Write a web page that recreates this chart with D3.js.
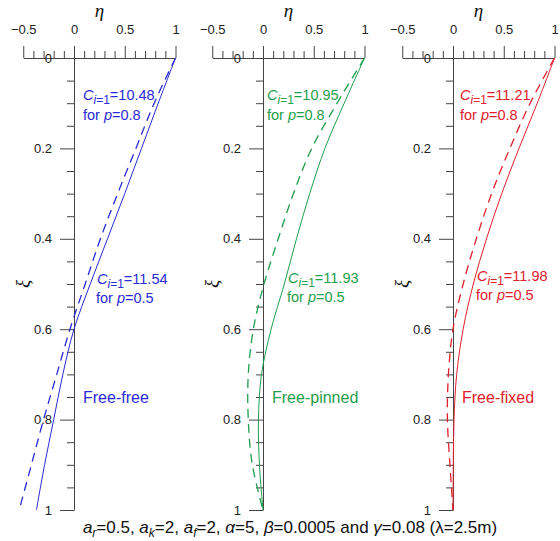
<!DOCTYPE html>
<html>
<head>
<meta charset="utf-8">
<script src="https://cdn.jsdelivr.net/npm/d3@7"></script>
<style>
  body { margin: 0; background: #fff; }
  svg { display: block; }
  text { font-family: "Liberation Sans", Arial, sans-serif; }
</style>
</head>
<body>
<svg id="chart" width="560" height="541"></svg>
<script>
// ---------- data ----------
const xiGrid = [0, 0.1, 0.2, 0.3, 0.4, 0.5, 0.6, 0.7, 0.8, 0.9, 1.0];
const panelNames = ["Free-free", "Free-pinned", "Free-fixed"];
const panelColors = ["#2a2ad6", "#1f9e4c", "#e0202c"];
// eta values, p = 0.5 (solid) and p = 0.8 (dashed)
const freeFreeP05   = [1.0, 0.83, 0.665, 0.50, 0.33, 0.16, 0.0, -0.11, -0.20, -0.29, -0.37];
const freeFreeP08   = [1.0, 0.79, 0.61, 0.43, 0.26, 0.11, -0.04, -0.17, -0.30, -0.42, -0.54];
const freePinnedP05 = [1.0, 0.80, 0.61, 0.46, 0.33, 0.21, 0.08, -0.015, -0.045, -0.035, 0];
const freePinnedP08 = [1.0, 0.73, 0.48, 0.30, 0.15, 0.01, -0.095, -0.145, -0.145, -0.105, 0];
const freeFixedP05  = [1.0, 0.83, 0.65, 0.48, 0.33, 0.20, 0.10, 0.036, 0.01, 0.003, 0];
const freeFixedP08  = [1.0, 0.76, 0.56, 0.38, 0.23, 0.10, 0.0, -0.045, -0.055, -0.03, 0];
const cP08 = ["10.48", "10.95", "11.21"];
const cP05 = ["11.54", "11.93", "11.98"];
const etaMajorTicks = [-0.5, 0, 0.5, 1];
const xiMajorTicks = [0, 0.2, 0.4, 0.6, 0.8, 1];

const seriesP05 = [freeFreeP05, freePinnedP05, freeFixedP05];
const seriesP08 = [freeFreeP08, freePinnedP08, freeFixedP08];

// ---------- layout ----------
const svg = d3.select("#chart");
const panelX0 = [74, 263, 453];     // pixel position of eta = 0
const unit = 101.5;                 // pixels per eta unit
const yTop = 58, yBot = 510;
const axisColor = "#444";
const annot = [
  {a1x: 9,  a1y: 100, a2x: 23, a2y: 284},
  {a1x: 4,  a1y: 100, a2x: 25, a2y: 283},
  {a1x: 7,  a1y: 100, a2x: 24, a2y: 281}
];

const y = d3.scaleLinear().domain([0, 1]).range([yTop, yBot]);

const etaMinor = d3.range(-5, 11).map(d => d / 10).filter(d => !etaMajorTicks.some(m => Math.abs(m - d) < 1e-9));
const xiMinor = d3.range(0, 21).map(d => d / 20).filter(d => !xiMajorTicks.some(m => Math.abs(m - d) < 1e-9));

panelNames.forEach((name, i) => {
  const x0 = panelX0[i];
  const x = d3.scaleLinear().domain([-0.5, 1]).range([x0 - 0.5 * unit, x0 + unit]);
  const col = panelColors[i];
  const g = svg.append("g");

  const topMinor = g.append("g").attr("transform", `translate(0,${yTop})`)
    .call(d3.axisTop(x).tickValues(etaMinor).tickSize(7).tickSizeOuter(0).tickFormat(""));
  topMinor.select(".domain").remove();
  const topMajor = g.append("g").attr("transform", `translate(0,${yTop})`)
    .call(d3.axisTop(x).tickValues(etaMajorTicks).tickSize(12).tickSizeOuter(0).tickPadding(12)
      .tickFormat(d => d3.format("")(d)));
  const leftMinor = g.append("g").attr("transform", `translate(${x(0)},0)`)
    .call(d3.axisLeft(y).tickValues(xiMinor).tickSize(7).tickSizeOuter(0).tickFormat(""));
  leftMinor.select(".domain").remove();
  const leftMajor = g.append("g").attr("transform", `translate(${x(0)},0)`)
    .call(d3.axisLeft(y).tickValues(xiMajorTicks).tickSize(14).tickSizeOuter(0).tickPadding(8)
      .tickFormat(d => d3.format("")(d)));

  [topMinor, topMajor, leftMinor, leftMajor].forEach(a => {
    a.selectAll("path, line").attr("stroke", axisColor).attr("stroke-width", 1);
    a.selectAll("text").attr("fill", "#222").style("font-size", "13px")
      .style("font-family", "'Liberation Sans', Arial, sans-serif");
  });

  g.append("text").attr("x", x(0.25)).attr("y", 17).attr("text-anchor", "middle")
    .style("font-family", "'Liberation Serif', 'Times New Roman', serif")
    .style("font-style", "italic").style("font-size", "19px").attr("fill", "#111").text("η");
  g.append("text").attr("transform", `translate(${x0 - 52},${(yTop + yBot) / 2}) rotate(-90)`)
    .attr("text-anchor", "middle").attr("dominant-baseline", "central")
    .style("font-family", "'Liberation Serif', 'Times New Roman', serif")
    .style("font-style", "italic").style("font-size", "19px").attr("fill", "#111").text("ξ");

  const line = d3.line().x(d => x(d[1])).y(d => y(d[0])).curve(d3.curveCatmullRom.alpha(0.5));
  g.append("path").datum(xiGrid.map((xi, k) => [xi, seriesP05[i][k]]))
    .attr("d", line).attr("fill", "none").attr("stroke", col).attr("stroke-width", 1);
  g.append("path").datum(xiGrid.map((xi, k) => [xi, seriesP08[i][k]]))
    .attr("d", line).attr("fill", "none").attr("stroke", col).attr("stroke-width", 1.3)
    .attr("stroke-dasharray", "9,6");

  function cLabel(px, py, val) {
    const t = g.append("text").attr("x", px).attr("y", py).attr("fill", col).style("font-size", "14.5px");
    t.append("tspan").style("font-style", "italic").text("C");
    t.append("tspan").attr("dy", 4).style("font-size", "12px").style("font-style", "italic").text("i");
    t.append("tspan").style("font-size", "12px").text("=1");
    t.append("tspan").attr("dy", -4).text("=" + val);
  }
  function pLabel(px, py, p) {
    const t = g.append("text").attr("x", px).attr("y", py).attr("fill", col).style("font-size", "14.5px");
    t.append("tspan").text("for ");
    t.append("tspan").style("font-style", "italic").text("p");
    t.append("tspan").text("=" + p);
  }
  const an = annot[i];
  cLabel(x0 + an.a1x, an.a1y, cP08[i]);
  pLabel(x0 + an.a1x, an.a1y + 20, "0.8");
  cLabel(x0 + an.a2x, an.a2y, cP05[i]);
  pLabel(x0 + an.a2x - 1, an.a2y + 19, "0.5");

  g.append("text").attr("x", x0 + 9).attr("y", 403).attr("fill", col)
    .style("font-size", "16px").text(name);
});

// caption
const cap = svg.append("text").attr("x", 290).attr("y", 533).attr("text-anchor", "middle")
  .attr("fill", "#111").style("font-size", "17px");
let pendingUp = false;
function add(s, italic, sub) {
  const t = cap.append("tspan").text(s);
  if (italic) t.style("font-style", "italic");
  if (sub) { t.attr("dy", 4).style("font-size", "12px"); pendingUp = true; }
  else if (pendingUp) { t.attr("dy", -4); pendingUp = false; }
}
add("a", true); add("r", true, true); add("=0.5, ");
add("a", true); add("k", true, true); add("=2, ");
add("a", true); add("f", true, true); add("=2, ");
add("α", true); add("=5, "); add("β", true); add("=0.0005 and ");
add("γ", true); add("=0.08 (λ=2.5m)");
</script>
</body>
</html>
